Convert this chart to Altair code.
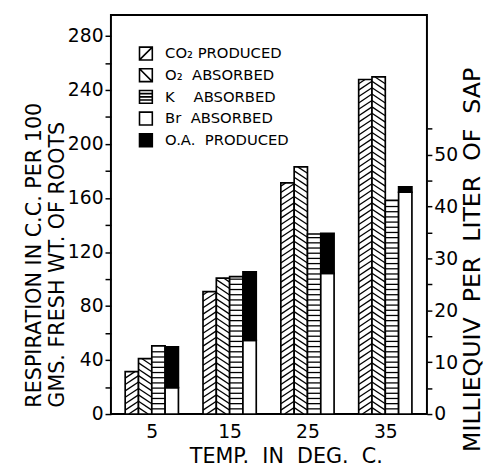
import altair as alt
import pandas as pd

# ---- data ----
temps = [5, 15, 25, 35]
co2_produced = [31.4, 90.7, 171.2, 247.8]      # cc / 100 g (left axis)
o2_absorbed = [41.1, 100.7, 183.1, 249.7]      # cc / 100 g (left axis)
k_absorbed = [13.15, 26.5, 34.7, 41.2]         # milliequiv / l (right axis)
br_absorbed = [5.1, 14.2, 27.1, 42.75]         # milliequiv / l (right axis)
oa_produced = [7.85, 13.2, 7.75, 1.05]         # milliequiv / l, stacked on Br

series = ["CO₂ PRODUCED", "O₂\u00a0\u00a0ABSORBED", "K\u00a0\u00a0\u00a0\u00a0ABSORBED",
          "Br\u00a0\u00a0ABSORBED", "O.A.\u00a0\u00a0PRODUCED"]
left_ticks = list(range(0, 281, 20))
right_ticks = list(range(0, 56, 5))
NB2 = "\u00a0\u00a0"
x_title = NB2.join(["TEMP.", "IN", "DEG.", "C."])
right_title = NB2.join(["MILLIEQUIV", "PER", "LITER", "OF", "SAP"])

# ---- layout / style constants ----
BAR_W = 1.71
X_DOM = [-0.25, 40.35]
L_DOM = [0, 295.5]
R_DOM = [0, 76.9]
FONT = "DejaVu Sans"
L_SPACING, L_RISE = 4.74, 6.56   # diagonal hatch (left units)
K_SPACING = 1.0                  # horizontal hatch (right units)


def bar_rows(vals, slot, base=None):
    rows = []
    for i, (t, v) in enumerate(zip(temps, vals)):
        x0 = t - 2 * BAR_W + slot * BAR_W
        b = 0 if base is None else base[i]
        rows.append({"x0": x0, "x1": x0 + BAR_W, "y0": b, "y1": b + v})
    return rows


def diag_rows(vals, slot, mirror):
    rows = []
    for t, h in zip(temps, vals):
        x0 = t - 2 * BAR_W + slot * BAR_W
        x1 = x0 + BAR_W
        c = -L_RISE
        while c < h:
            ta = max(0.0, -c / L_RISE)
            tb = min(1.0, (h - c) / L_RISE)
            if tb > ta:
                xa = x0 + (x1 - x0) * ta
                xb = x0 + (x1 - x0) * tb
                if mirror:
                    xa, xb = x0 + x1 - xa, x0 + x1 - xb
                rows.append({"x0": xa, "x1": xb, "y0": c + L_RISE * ta, "y1": c + L_RISE * tb})
            c += L_SPACING
    return rows


def horiz_rows(vals, slot):
    rows = []
    for t, h in zip(temps, vals):
        x0 = t - 2 * BAR_W + slot * BAR_W
        y = K_SPACING
        while y < h - 0.3:
            rows.append({"x0": x0, "x1": x0 + BAR_W, "y0": y, "y1": y})
            y += K_SPACING
    return rows


left_bars = pd.DataFrame(bar_rows(co2_produced, 0) + bar_rows(o2_absorbed, 1))
left_hatch = pd.DataFrame(diag_rows(co2_produced, 0, False) + diag_rows(o2_absorbed, 1, True))
white_right = pd.DataFrame(bar_rows(k_absorbed, 2) + bar_rows(br_absorbed, 3))
k_hatch = pd.DataFrame(horiz_rows(k_absorbed, 2))
black_right = pd.DataFrame(bar_rows(oa_produced, 3, base=br_absorbed))
legend_df = pd.DataFrame({"series": series})

x_axis = alt.Axis(values=temps, ticks=False, domain=False, grid=False,
                  labelFontSize=19, labelPadding=9, labelFont=FONT, labelColor="black",
                  title=x_title, titleFontSize=21, titleFont=FONT,
                  titleFontWeight="normal", titleColor="black",
                  titleX=177.5, titleY=49, titleAlign="center", titleBaseline="alphabetic")
X = alt.X("x0:Q", scale=alt.Scale(domain=X_DOM, nice=False, zero=False), axis=x_axis)

left_axis = alt.Axis(values=left_ticks, labelExpr="datum.value % 40 == 0 ? datum.label : ''",
                     tickSize=6, tickWidth=1.5, tickColor="black", labelPadding=2,
                     labelFontSize=19, labelFont=FONT, labelColor="black",
                     domain=False, grid=False,
                     title=["RESPIRATION IN C.C. PER 100", "GMS. FRESH WT. OF ROOTS"],
                     titleFontSize=21, titleFont=FONT, titleFontWeight="normal", titleColor="black",
                     titleAngle=270, titleAlign="left", titleBaseline="alphabetic",
                     titleX=-71, titleY=398, titleLineHeight=23)
YL = alt.Y("y0:Q", scale=alt.Scale(domain=L_DOM, nice=False), axis=left_axis)

right_axis = alt.Axis(orient="right", values=right_ticks,
                      labelExpr="datum.value % 10 == 0 ? datum.label : ''",
                      tickSize=5, tickWidth=1.5, tickColor="black", labelPadding=2,
                      labelFontSize=19, labelFont=FONT, labelColor="black",
                      domain=False, grid=False,
                      title=right_title,
                      titleFontSize=24, titleFont=FONT, titleFontWeight="normal", titleColor="black",
                      titleAngle=270, titleAlign="left", titleBaseline="alphabetic",
                      titleX=53, titleY=443)
YR = alt.Y("y0:Q", scale=alt.Scale(domain=R_DOM, nice=False), axis=right_axis)

rect_w = alt.Chart(left_bars).mark_rect(fill="white", stroke="black", strokeWidth=1.7).encode(
    x=X, x2="x1:Q", y=YL, y2="y1:Q")
hatch_l = alt.Chart(left_hatch).mark_rule(color="black", strokeWidth=1.3).encode(
    x=X, x2="x1:Q", y=YL, y2="y1:Q")
left_layer = alt.layer(rect_w, hatch_l)

rect_rw = alt.Chart(white_right).mark_rect(fill="white", stroke="black", strokeWidth=1.7).encode(
    x=X, x2="x1:Q", y=YR, y2="y1:Q")
hatch_k = alt.Chart(k_hatch).mark_rule(color="black", strokeWidth=1.3).encode(
    x=X, x2="x1:Q", y=YR, y2="y1:Q")
rect_rb = alt.Chart(black_right).mark_rect(fill="black", stroke="black", strokeWidth=1.7).encode(
    x=X, x2="x1:Q", y=YR, y2="y1:Q")

paths = [
    "M-1,-1H1V1H-1Z M-1,1L1,-1",
    "M-1,-1H1V1H-1Z M-1,-1L1,1",
    "M-1,-1H1V1H-1Z M-1,-0.5H1 M-1,0H1 M-1,0.5H1",
    "M-1,-1H1V1H-1Z",
    "M-1,-1H1V1H-1Z",
]
legend = alt.Legend(orient="none", legendX=28, legendY=31.5, title=None,
                    symbolSize=169, symbolStrokeWidth=1.6,
                    symbolOpacity=1, labelFontSize=15, labelFont=FONT, labelColor="black",
                    labelOffset=12, rowPadding=1, padding=0)
leg_pts = alt.Chart(legend_df).mark_point(opacity=0, filled=False, color="black",
                                          stroke="black", strokeWidth=1.6).encode(
    shape=alt.Shape("series:N", scale=alt.Scale(domain=series, range=paths), legend=legend),
    fill=alt.Fill("series:N", scale=alt.Scale(domain=series,
                  range=["white", "white", "white", "white", "black"]), legend=legend),
)

right_layer = alt.layer(rect_rw, hatch_k, rect_rb, leg_pts)

chart = alt.layer(left_layer, right_layer).resolve_scale(y="independent").properties(
    width=320.8, height=405,
    autosize=alt.AutoSizeParams(type="none"),
    padding={"left": 104.5, "top": 3.7, "right": 63, "bottom": 54},
    background="white",
).configure_view(stroke="black", strokeWidth=2)

chart.save("out.html", embed_options={"renderer": "svg", "actions": False})
